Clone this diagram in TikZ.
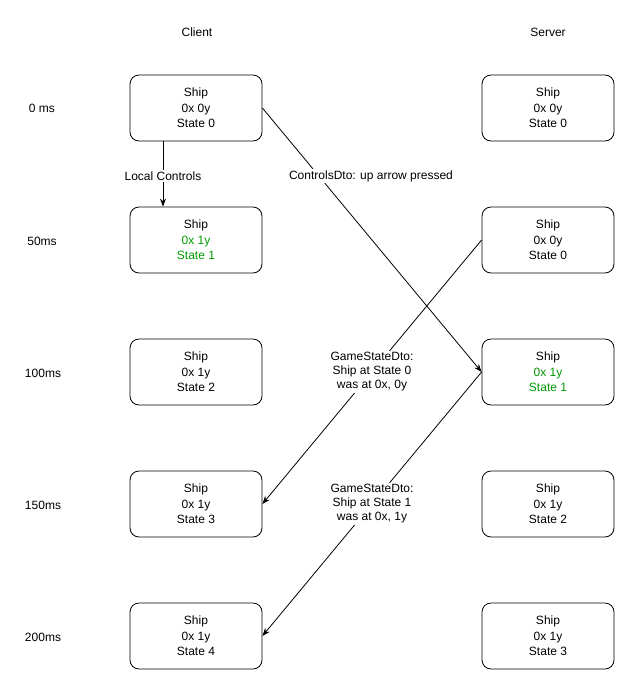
\documentclass[tikz,border=0pt]{standalone}
\usepackage{fontspec}
\setmainfont{Liberation Sans}
\usetikzlibrary{arrows.meta}
\definecolor{okgreen}{HTML}{009900}
\begin{document}
\begin{tikzpicture}[x=1pt,y=-1pt,
  every node/.style={font=\fontsize{12}{15}\selectfont, inner sep=1pt},
  shipbox/.style={draw, line width=0.8pt, rounded corners=9pt, minimum width=132pt,
    minimum height=66pt, align=center, inner sep=0pt, font=\fontsize{12}{15.5}\selectfont},
  msg/.style={line width=0.8pt, -{Stealth[length=8pt,width=6pt]}},
  lbl/.style={fill=white, align=center, inner sep=1.5pt, font=\fontsize{12}{14}\selectfont}]
\useasboundingbox (0,0) rectangle (636,691);

% column headings
\node (client) at (197,32) {Client};
\node (server) at (548,32) {Server};

% time axis
\node (t0) at (42,108) {0 ms};
\node (t50) at (42,241) {50ms};
\node (t100) at (43,373) {100ms};
\node (t150) at (43,505) {150ms};
\node (t200) at (43,637) {200ms};

% client states
\node[shipbox] (c0) at (196,108) {Ship\\0x 0y\\State 0};
\node[shipbox] (c1) at (196,240) {Ship\\\textcolor{okgreen}{0x 1y}\\\textcolor{okgreen}{State 1}};
\node[shipbox] (c2) at (196,372) {Ship\\0x 1y\\State 2};
\node[shipbox] (c3) at (196,504) {Ship\\0x 1y\\State 3};
\node[shipbox] (c4) at (196,636) {Ship\\0x 1y\\State 4};

% server states
\node[shipbox] (s0) at (548,108) {Ship\\0x 0y\\State 0};
\node[shipbox] (s1) at (548,240) {Ship\\0x 0y\\State 0};
\node[shipbox] (s2) at (548,372) {Ship\\\textcolor{okgreen}{0x 1y}\\\textcolor{okgreen}{State 1}};
\node[shipbox] (s3) at (548,504) {Ship\\0x 1y\\State 2};
\node[shipbox] (s4) at (548,636) {Ship\\0x 1y\\State 3};

% local input applied immediately on the client
\draw[msg] ([xshift=-33pt]c0.south) -- node[lbl, pos=0.53] (lc) {Local Controls} ([xshift=-33pt]c1.north);

% client -> server input message
\draw[msg] (c0.east) -- (s2.west);
\node[lbl] (cd) at (371,176) {ControlsDto: up arrow pressed};

% server -> client state updates
\draw[msg] (s1.west) -- node[lbl] (g1) {GameStateDto:\\Ship at State 0\\was at 0x, 0y} (c3.east);
\draw[msg] (s2.west) -- node[lbl] (g2) {GameStateDto:\\Ship at State 1\\was at 0x, 1y} (c4.east);
\end{tikzpicture}
\end{document}
